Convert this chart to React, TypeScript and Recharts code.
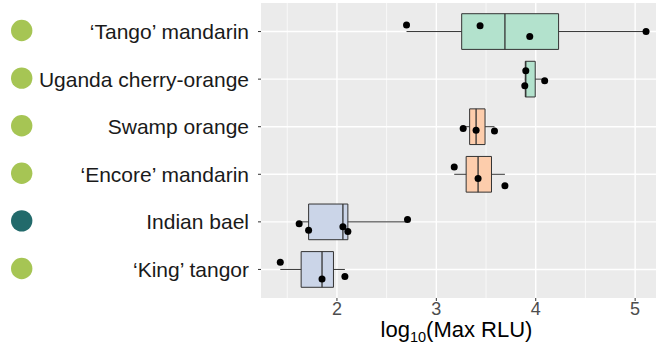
import React from 'react';
import {
  ComposedChart,
  Scatter,
  XAxis,
  YAxis,
  CartesianGrid,
  ReferenceArea,
  ReferenceLine
} from 'recharts';

// rows, top to bottom
const species = [
  '‘Tango’ mandarin',
  'Uganda cherry-orange',
  'Swamp orange',
  '‘Encore’ mandarin',
  'Indian bael',
  '‘King’ tangor'
];
const markerColors = ['#a6c554', '#a6c554', '#a6c554', '#a6c554', '#226a6b', '#a6c554'];
const boxFills = ['#b3e2cd', '#b3e2cd', '#fdcdac', '#fdcdac', '#cbd5e8', '#cbd5e8'];

// box stats (log10 Max RLU)
const whiskerLow = [2.70, 3.89, 3.27, 3.18, 1.62, 1.43];
const q1 = [3.255, 3.895, 3.335, 3.30, 1.715, 1.64];
const medians = [3.69, 3.90, 3.40, 3.42, 2.06, 1.85];
const q3 = [4.23, 3.995, 3.49, 3.555, 2.11, 1.965];
const whiskerHigh = [5.11, 4.09, 3.585, 3.69, 2.71, 2.08];

// individual replicates + vertical jitter (in row units)
const pointValues = [
  [2.70, 3.44, 3.94, 5.11],
  [3.90, 3.89, 4.09],
  [3.27, 3.40, 3.585],
  [3.18, 3.42, 3.69],
  [1.62, 1.715, 2.06, 2.11, 2.71],
  [1.43, 1.85, 2.08]
];
const pointJitter = [
  [-0.14, -0.12, 0.105, 0],
  [-0.175, 0.14, 0.035],
  [0.04, 0.075, 0.09],
  [-0.155, 0.09, 0.24],
  [0.04, 0.175, 0.105, 0.2, -0.05],
  [-0.15, 0.2, 0.15]
];

const xTicks = [2, 3, 4, 5];
const xMinor = [1.5, 2.5, 3.5, 4.5];
const rows = species.map((_, i) => i);

const points = pointValues.flatMap((vals, i) =>
  vals.map((v, j) => ({ x: v, y: i + pointJitter[i][j] }))
);

const BOX_HALF = 0.375;
const EDGE = '#333333';

const SpeciesTick = (props: any) => {
  const { y, payload } = props;
  const i = payload.value as number;
  return (
    <g>
      <circle cx={21.7} cy={y - 1} r={10.7} fill={markerColors[i]} />
      <text x={249} y={y} dy="0.36em" textAnchor="end" fontSize={21} fill="#1a1a1a">
        {species[i]}
      </text>
    </g>
  );
};

const AxisTitle = (props: any) => {
  const { viewBox } = props;
  const cx = viewBox.x + viewBox.width / 2 - 2;
  return (
    <text x={cx} y={viewBox.y + 39} textAnchor="middle" fontSize={22} fill="#000">
      <tspan>log</tspan>
      <tspan fontSize={14.5} dy={5}>10</tspan>
      <tspan dy={-5}>(Max RLU)</tspan>
    </text>
  );
};

const App: React.FC = () => {
  return (
    <div style={{ position: 'absolute', left: 0, top: 0, width: 658, height: 349, background: '#fff' }}>
      <ComposedChart
        width={658}
        height={349}
        margin={{ top: 3, right: 2, bottom: 0, left: 0 }}
        style={{ fontFamily: '"Liberation Sans", Arial, sans-serif' }}
      >
        <CartesianGrid
          fill="#ebebeb"
          fillOpacity={1}
          stroke="#ffffff"
          strokeWidth={1.4}
          verticalValues={xTicks}
          horizontalValues={rows}
        />
        <CartesianGrid stroke="#ffffff" strokeWidth={0.7} horizontal={false} verticalValues={xMinor} />
        <XAxis
          type="number"
          dataKey="x"
          domain={[1.236, 5.21]}
          ticks={xTicks}
          allowDataOverflow
          height={51}
          axisLine={false}
          tickLine={{ stroke: EDGE }}
          tickSize={3}
          tickMargin={1}
          tick={{ fontSize: 18, fill: '#4d4d4d' }}
          label={<AxisTitle />}
        />
        <YAxis
          type="number"
          dataKey="y"
          domain={[-0.6, 5.6]}
          reversed
          ticks={rows}
          allowDataOverflow
          width={261}
          axisLine={false}
          tickLine={{ stroke: EDGE }}
          tickSize={3}
          tick={<SpeciesTick />}
          interval={0}
        />
        {rows.map((i) => (
          <ReferenceLine
            key={`wl${i}`}
            segment={[{ x: whiskerLow[i], y: i }, { x: q1[i], y: i }]}
            stroke={EDGE}
            strokeWidth={1}
          />
        ))}
        {rows.map((i) => (
          <ReferenceLine
            key={`wh${i}`}
            segment={[{ x: q3[i], y: i }, { x: whiskerHigh[i], y: i }]}
            stroke={EDGE}
            strokeWidth={1}
          />
        ))}
        {rows.map((i) => (
          <ReferenceArea
            key={`box${i}`}
            x1={q1[i]}
            x2={q3[i]}
            y1={i - BOX_HALF}
            y2={i + BOX_HALF}
            fill={boxFills[i]}
            fillOpacity={1}
            stroke={EDGE}
            strokeWidth={1}
          />
        ))}
        {rows.map((i) => (
          <ReferenceLine
            key={`med${i}`}
            segment={[{ x: medians[i], y: i - BOX_HALF }, { x: medians[i], y: i + BOX_HALF }]}
            stroke={EDGE}
            strokeWidth={1.3}
          />
        ))}
        <Scatter
          data={points}
          isAnimationActive={false}
          shape={(p: any) => <circle cx={p.cx} cy={p.cy} r={3.5} fill="#000" />}
        />
      </ComposedChart>
    </div>
  );
};

export default App;
